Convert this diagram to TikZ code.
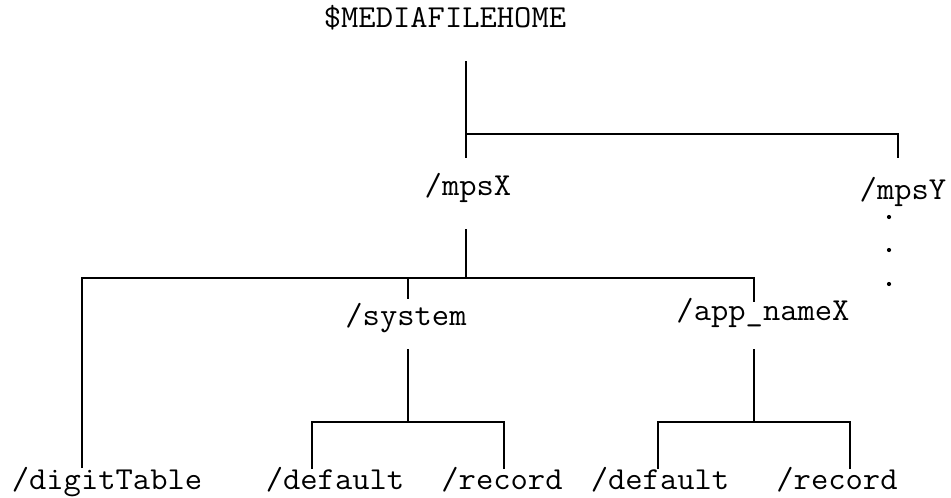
\documentclass[tikz,border=0pt]{standalone}
\usepackage{fontspec}
\usepackage{graphicx}
% slightly widened typewriter label for the directory names
\newcommand\dirlabel[1]{\scalebox{1.05}[1]{#1}}
\begin{document}
\begin{tikzpicture}[x=1pt,y=-1pt,
  dir/.style={font=\ttfamily\fontsize{32}{33}\selectfont, inner sep=0pt, anchor=base},
  branch/.style={line width=1.1pt, black},
  dot/.style={circle, fill=black, inner sep=0pt, minimum size=4.2pt}]
  \useasboundingbox (0,0) rectangle (951,498);

  % directory labels
  \node[dir] (home)  at (445,27)  {\dirlabel{\$MEDIAFILEHOME}};
  \node[dir] (mpsx)  at (468,195) {\dirlabel{/mpsX}};
  \node[dir] (mpsy)  at (903,199) {\dirlabel{/mpsY}};
  \node[dir] (sys)   at (406,325) {\dirlabel{/system}};
  \node[dir] (app)   at (763,320) {\dirlabel{/app\_nameX}};
  \node[dir] (digit) at (107,489) {\dirlabel{/digitTable}};
  \node[dir] (sdef)  at (335,489) {\dirlabel{/default}};
  \node[dir] (srec)  at (502,489) {\dirlabel{/record}};
  \node[dir] (adef)  at (660,489) {\dirlabel{/default}};
  \node[dir] (arec)  at (837,489) {\dirlabel{/record}};

  % continuation dots under /mpsY
  \node[dot] (d1) at (889,217) {};
  \node[dot] (d2) at (889,250) {};
  \node[dot] (d3) at (889,284) {};

  % junction points
  \coordinate (homeS) at (466,61);
  \coordinate (homeJ) at (466,134);
  \coordinate (mpsxN) at (466,158);
  \coordinate (mpsyN) at (898,158);
  \coordinate (mpsyJ) at (898,134);

  \coordinate (mpsxS) at (466,229);
  \coordinate (mpsxJ) at (466,278);
  \coordinate (digJ)  at (82,278);
  \coordinate (digN)  at (82,468);
  \coordinate (sysJ)  at (408,278);
  \coordinate (sysN)  at (408,299);
  \coordinate (appJ)  at (754,278);
  \coordinate (appN)  at (754,302);

  \coordinate (sysS)  at (408,349);
  \coordinate (sysK)  at (408,422);
  \coordinate (sdefJ) at (312,422);
  \coordinate (sdefN) at (312,469);
  \coordinate (srecJ) at (504,422);
  \coordinate (srecN) at (504,469);

  \coordinate (appS)  at (754,349);
  \coordinate (appK)  at (754,422);
  \coordinate (adefJ) at (658,422);
  \coordinate (adefN) at (658,469);
  \coordinate (arecJ) at (850,422);
  \coordinate (arecN) at (850,469);

  % level 1
  \draw[branch] (homeS) -- (mpsxN);
  \draw[branch] (homeJ) -- (mpsyJ) -- (mpsyN);

  % level 2
  \draw[branch] (mpsxS) -- (mpsxJ);
  \draw[branch] (digN) -- (digJ) -- (appJ) -- (appN);
  \draw[branch] (sysJ) -- (sysN);

  % level 3
  \draw[branch] (sysS) -- (sysK);
  \draw[branch] (sdefN) -- (sdefJ) -- (srecJ) -- (srecN);
  \draw[branch] (appS) -- (appK);
  \draw[branch] (adefN) -- (adefJ) -- (arecJ) -- (arecN);
\end{tikzpicture}
\end{document}
